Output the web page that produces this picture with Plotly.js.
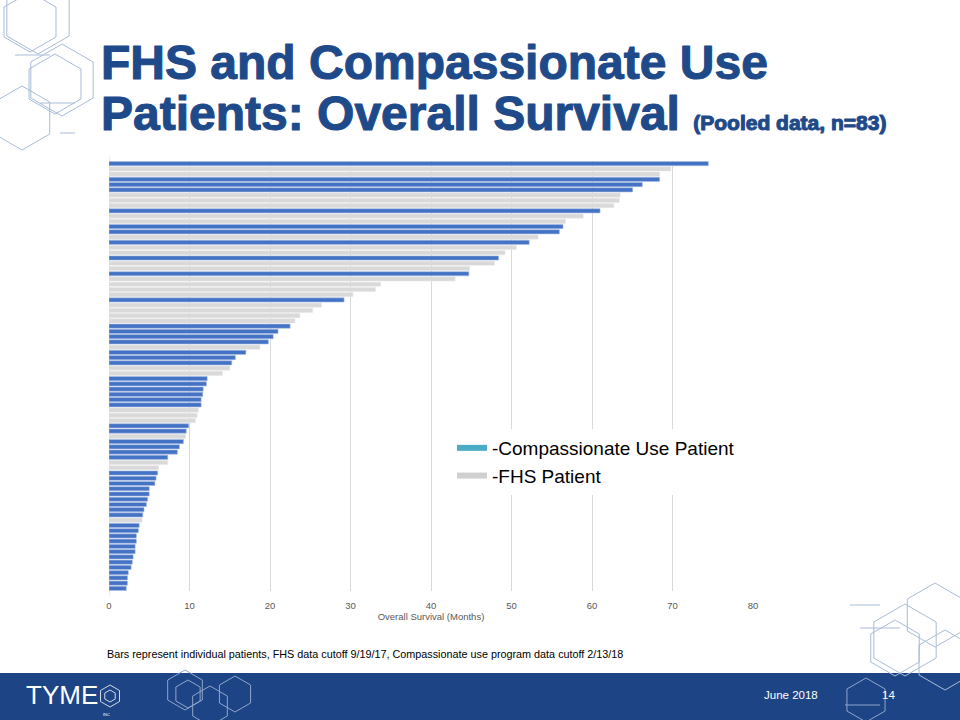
<!DOCTYPE html>
<html>
<head>
<meta charset="utf-8">
<script src="https://cdn.plot.ly/plotly-3.0.1.min.js"></script>
<style>
html,body{margin:0;padding:0;background:#fff;}
#chart{width:960px;height:720px;}
g.annotation[data-index="0"] text, g.annotation[data-index="1"] text{stroke:#1f4a8a;stroke-width:1.1px;stroke-linejoin:round;}
</style>
</head>
<body>
<div id="chart"></div>
<script>
// Overall survival (months) for each patient, ranked from longest to shortest
const survivalMonths = [
  74.45, 69.8, 68.4, 68.4, 66.25, 65.05, 63.5, 63.4, 62.7, 61.0,
  58.9, 56.7, 56.4, 55.95, 53.3, 52.2, 50.6, 49.2, 48.4, 47.9,
  44.8, 44.7, 43.0, 33.75, 33.1, 30.3, 29.2, 26.4, 25.3, 23.7,
  23.1, 22.5, 21.0, 20.4, 19.8, 18.75, 17.0, 15.7, 15.25, 15.0,
  14.1, 12.2, 12.1, 11.7, 11.65, 11.45, 11.45, 11.1, 10.95, 10.75,
  9.9, 9.6, 9.5, 9.25, 8.75, 8.5, 7.3, 7.3, 6.15, 6.05,
  5.85, 5.7, 5.0, 5.0, 4.8, 4.65, 4.35, 4.2, 4.1, 3.75,
  3.65, 3.4, 3.4, 3.25, 3.25, 3.0, 2.9, 2.75, 2.4, 2.3,
  2.3, 2.15
];
// Patient group: "C" = Compassionate Use, "F" = FHS
const patientGroup = [
  "C","F","F","C","C","C","F","F","F","C",
  "F","F","C","C","F","C","F","F","C","F",
  "F","C","F","F","F","F","C","F","F","F",
  "F","C","C","C","C","F","C","C","C","F",
  "F","C","C","C","C","C","C","F","F","F",
  "C","C","F","C","C","C","C","F","F","C",
  "C","C","C","C","C","C","C","C","F","C",
  "C","C","C","C","C","C","C","C","C","C",
  "C","C"
];
const seriesNames = {C: "-Compassionate Use Patient", F: "-FHS Patient"};
const xTicks = [0, 10, 20, 30, 40, 50, 60, 70, 80];

// pixel helpers for page decoration
const L = 109, R = 753, T = 161, B = 591;
const px = v => (v - L) / (R - L);
const py = v => (B - v) / (B - T);

function pick(g) {
  const xs = [], ys = [];
  survivalMonths.forEach((v, i) => { if (patientGroup[i] === g) { xs.push(v); ys.push(i); } });
  return {xs, ys};
}
const cu = pick("C"), fhs = pick("F");

const traces = [
  {type: "bar", orientation: "h", x: fhs.xs, y: fhs.ys, width: 0.8, name: seriesNames.F,
   marker: {color: "#d9d9d9", line: {color: "#e6e6e6", width: 0.5}}, showlegend: false, hoverinfo: "x"},
  {type: "bar", orientation: "h", x: cu.xs, y: cu.ys, width: 0.8, name: seriesNames.C,
   marker: {color: "#4472c4", line: {color: "#a9bde3", width: 0.6}}, showlegend: false, hoverinfo: "x"},
  {type: "scatter", mode: "lines", x: [null], y: [null], name: seriesNames.C,
   line: {color: "#4bacc6", width: 6}, showlegend: true},
  {type: "scatter", mode: "lines", x: [null], y: [null], name: seriesNames.F,
   line: {color: "#d0d0d0", width: 6}, showlegend: true}
];

function hexPath(cx, cy, r) {
  let d = "";
  for (let k = 0; k < 6; k++) {
    const a = Math.PI / 180 * (60 * k - 90);
    const X = px(cx + r * Math.cos(a)), Y = py(cy + r * Math.sin(a));
    d += (k === 0 ? "M" : "L") + X + "," + Y + " ";
  }
  return d + "Z";
}
const shapes = [];
function hex(cx, cy, r, color, w) {
  shapes.push({type: "path", xref: "paper", yref: "paper", path: hexPath(cx, cy, r),
    line: {color: color, width: w || 1}, layer: "below"});
}
function seg(x0, y0, x1, y1, color) {
  shapes.push({type: "line", xref: "paper", yref: "paper", x0: px(x0), y0: py(y0), x1: px(x1), y1: py(y1),
    line: {color: color, width: 1}, layer: "below"});
}
// footer band
shapes.push({type: "rect", xref: "paper", yref: "paper", x0: px(0), x1: px(960), y0: py(673), y1: py(720),
  fillcolor: "#1d4484", line: {width: 0}, layer: "below"});
// top-left hexagons
const deco = "#a8bcd8";
hex(38, 18, 36, deco); hex(30, 22, 30, deco);
hex(62, 80, 36, deco); hex(55, 84, 30, deco);
hex(22, 118, 32, deco);
seg(40, 103, 75, 103, deco); seg(60, 133, 75, 133, deco); seg(15, 55, 50, 55, deco);
// bottom-right hexagons
hex(905, 640, 36, deco); hex(935, 615, 32, deco); hex(895, 648, 28, deco); hex(945, 660, 30, deco);
seg(850, 605, 880, 605, deco); seg(860, 628, 900, 628, deco);
// footer decorations
const w2 = "#8fa6cc";
hex(110, 696, 11, "#cfd9ea"); hex(110, 696, 6, "#cfd9ea");
hex(185, 690, 20, w2); hex(210, 706, 20, w2); hex(235, 694, 18, w2); hex(188, 694, 14, w2);
seg(845, 705, 880, 705, w2); hex(866, 700, 22, w2);

const annFont = "Liberation Sans, Arial, sans-serif";
const annotations = [
  {text: "<b>FHS and Compassionate Use</b>", x: px(99), y: py(63), xanchor: "left", yanchor: "middle",
   font: {family: annFont, size: 48, color: "#1f4a8a"}},
  {text: "<b>Patients: Overall Survival</b> <b><span style=\"font-size:21px\">(Pooled data, n=83)</span></b>",
   x: px(99), y: py(114), xanchor: "left", yanchor: "middle",
   font: {family: annFont, size: 48, color: "#1f4a8a"}},
  {text: "Bars represent individual patients, FHS data cutoff 9/19/17, Compassionate use program data cutoff 2/13/18",
   x: px(105), y: py(654), xanchor: "left", yanchor: "middle",
   font: {family: annFont, size: 10.8, color: "#000"}},
  {text: "TYME", x: px(24), y: py(695), xanchor: "left", yanchor: "middle",
   font: {family: annFont, size: 26, color: "#ffffff"}},
  {text: "INC", x: px(101), y: py(714), xanchor: "left", yanchor: "middle",
   font: {family: annFont, size: 4, color: "#ffffff"}},
  {text: "June 2018", x: px(762), y: py(695), xanchor: "left", yanchor: "middle",
   font: {family: annFont, size: 11.5, color: "#ffffff"}},
  {text: "14", x: px(880), y: py(695), xanchor: "left", yanchor: "middle",
   font: {family: annFont, size: 11.5, color: "#ffffff"}}
].map(a => Object.assign({xref: "paper", yref: "paper", showarrow: false}, a));

const layout = {
  width: 960, height: 720,
  margin: {l: L, r: 960 - R, t: T, b: 720 - B, pad: 0},
  paper_bgcolor: "#ffffff", plot_bgcolor: "#ffffff",
  barmode: "overlay",
  showlegend: true,
  legend: {x: px(452), y: py(429), xanchor: "left", yanchor: "top", bgcolor: "#ffffff",
    font: {family: annFont, size: 19, color: "#000"}, itemwidth: 30, tracegroupgap: 0},
  xaxis: {range: [0, 80], tickvals: xTicks, ticktext: xTicks.map(String),
    showgrid: true, gridcolor: "#d9d9d9", gridwidth: 1, zeroline: false, showline: false,
    ticks: "outside", ticklen: 6, tickcolor: "rgba(0,0,0,0)",
    tickfont: {family: annFont, size: 9.5, color: "#595959"},
    title: {text: "Overall Survival (Months)", standoff: 2, font: {family: annFont, size: 9.5, color: "#595959"}},
    fixedrange: true},
  yaxis: {range: [survivalMonths.length - 0.5, -0.5], showticklabels: false, showgrid: false,
    zeroline: false, showline: false, ticks: "", fixedrange: true},
  shapes: shapes,
  annotations: annotations
};
shapes.push({type: "line", xref: "x", yref: "paper", x0: 0, x1: 0, y0: -0.01, y1: 1.01,
  line: {color: "#d9d9d9", width: 1}, layer: "below"});

Plotly.newPlot("chart", traces, layout, {displayModeBar: false, staticPlot: true});
</script>
</body>
</html>
